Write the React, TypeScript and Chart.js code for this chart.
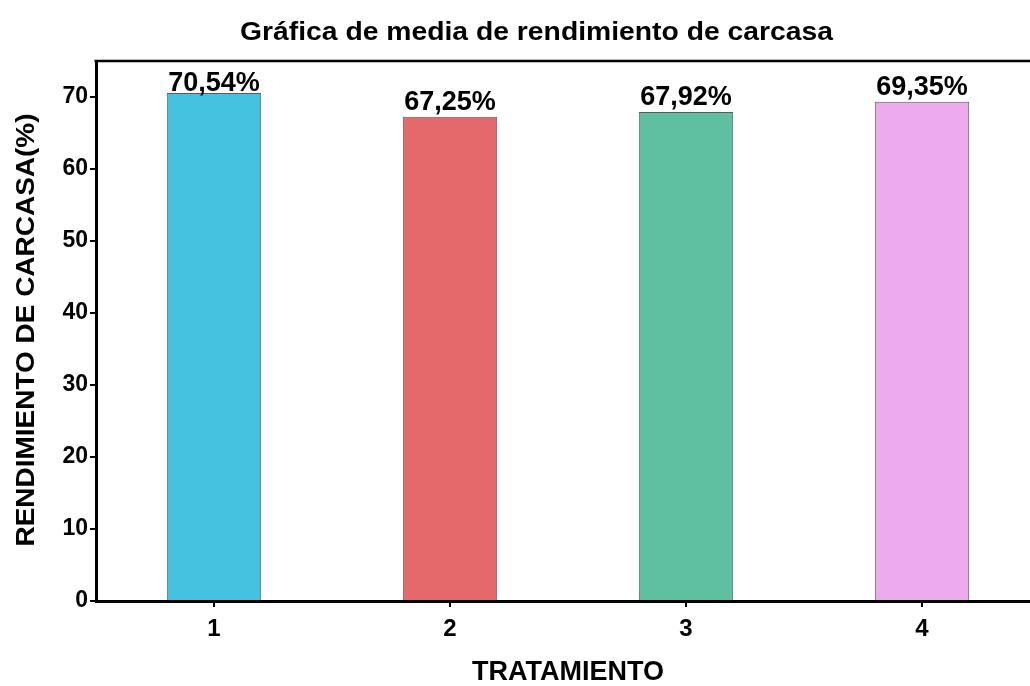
import React, { useEffect, useRef } from "react";
import { Chart, registerables } from "chart.js";

Chart.register(...registerables);

const categories = ["1", "2", "3", "4"];
const values = [70.54, 67.25, 67.92, 69.35];
const valueLabels = ["70,54%", "67,25%", "67,92%", "69,35%"];
const barColors = ["#45C2E0", "#E5696A", "#5EBFA1", "#EDAAEC"];
const yTicks = [0, 10, 20, 30, 40, 50, 60, 70];
const titleText = "Gráfica de media de rendimiento de carcasa";
const yTitleText = "RENDIMIENTO DE CARCASA(%)";
const xTitleText = "TRATAMIENTO";

const FONT = '"Liberation Sans", Arial, sans-serif';

const decorPlugin = {
  id: "decor",
  afterDraw(chart: any) {
    const { ctx, chartArea } = chart;
    ctx.save();
    // top and right frame lines
    ctx.strokeStyle = "#000";
    ctx.lineWidth = 2.5;
    ctx.beginPath();
    ctx.moveTo(chartArea.left - 1.5, chartArea.top);
    ctx.lineTo(chartArea.right, chartArea.top);
    ctx.lineTo(chartArea.right, chartArea.bottom);
    ctx.stroke();

    // chart title
    ctx.fillStyle = "#000";
    ctx.font = `bold 25px ${FONT}`;
    ctx.textAlign = "center";
    ctx.textBaseline = "alphabetic";
    const tw = ctx.measureText(titleText).width;
    const sx = 593 / tw;
    ctx.save();
    ctx.translate(536.5, 39.5);
    ctx.scale(sx, 1);
    ctx.fillText(titleText, 0, 0);
    ctx.restore();

    // y-axis title (rotated)
    ctx.font = `bold 25px ${FONT}`;
    const yw = ctx.measureText(yTitleText).width;
    const sy = 433 / yw;
    ctx.save();
    ctx.translate(34, (chartArea.top + chartArea.bottom) / 2 - 1);
    ctx.rotate(-Math.PI / 2);
    ctx.scale(sy, 1);
    ctx.textAlign = "center";
    ctx.textBaseline = "alphabetic";
    ctx.fillText(yTitleText, 0, 0);
    ctx.restore();

    // value labels above bars
    const meta = chart.getDatasetMeta(0);
    ctx.font = `bold 27px ${FONT}`;
    ctx.textAlign = "center";
    ctx.textBaseline = "alphabetic";
    meta.data.forEach((bar: any, i: number) => {
      let y = bar.y - 7;
      const minY = chartArea.top + 10 + 20;
      if (y < minY) y = Math.max(minY, bar.y - 2);
      ctx.fillText(valueLabels[i], bar.x, y);
    });
    ctx.restore();
  },
};

export default function App() {
  const ref = useRef<HTMLCanvasElement>(null);

  useEffect(() => {
    if (!ref.current) return;
    const chart = new Chart(ref.current, {
      type: "bar",
      data: {
        labels: categories,
        datasets: [
          {
            data: values,
            backgroundColor: barColors,
            borderColor: "#5a5a5a",
            borderWidth: 1,
            categoryPercentage: 1,
            barPercentage: 0.4,
          },
        ],
      },
      options: {
        responsive: false,
        animation: false,
        devicePixelRatio: 1,
        layout: { padding: { top: 61, left: 0, right: 0, bottom: 0 } },
        plugins: {
          legend: { display: false },
          title: { display: false },
          tooltip: { enabled: false },
        },
        scales: {
          x: {
            type: "category",
            offset: true,
            grid: {
              display: true,
              offset: false,
              drawOnChartArea: false,
              drawTicks: true,
              tickLength: 6,
              color: "#000",
              lineWidth: 2,
            },
            border: { display: true, color: "#000", width: 3 },
            ticks: {
              color: "#000",
              font: { family: FONT, size: 24, weight: "bold" },
              padding: 8,
            },
            title: {
              display: true,
              text: xTitleText,
              color: "#000",
              font: { family: FONT, size: 27, weight: "bold" },
              padding: { top: 0, bottom: -3 },
            },
            afterFit: (s: any) => {
              s.height = 85;
            },
          },
          y: {
            min: 0,
            max: 75,
            grid: {
              display: true,
              drawOnChartArea: false,
              drawTicks: true,
              tickLength: 6,
              color: "#000",
              lineWidth: 2,
            },
            border: { display: true, color: "#000", width: 3 },
            ticks: {
              stepSize: 10,
              color: "#000",
              font: { family: FONT, size: 23, weight: "bold" },
              padding: 2,
            },
            afterBuildTicks: (s: any) => {
              s.ticks = yTicks.map((v) => ({ value: v }));
            },
            afterFit: (s: any) => {
              s.width = 96;
            },
          },
        },
      },
      plugins: [decorPlugin],
    });
    return () => chart.destroy();
  }, []);

  return (
    <div
      style={{
        position: "fixed",
        left: 0,
        top: 0,
        width: 1030,
        height: 686,
        overflow: "hidden",
        background: "#fff",
      }}
    >
      <canvas ref={ref} width={1040} height={686} style={{ display: "block" }} />
    </div>
  );
}
